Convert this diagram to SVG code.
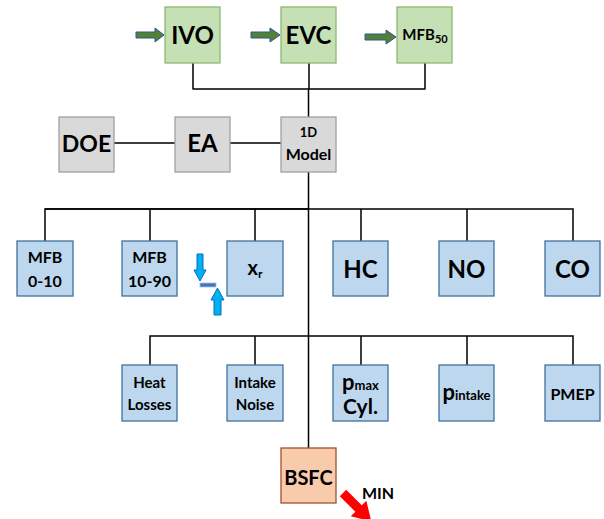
<svg xmlns="http://www.w3.org/2000/svg" width="604" height="519" viewBox="0 0 604 519">
<defs>
<style>
text{font-family:Lato,"Liberation Sans",sans-serif;font-weight:bold;fill:#000;text-anchor:middle}
.g{fill:#C5E0B4;stroke:#8CB870;stroke-width:1.3}
.gr{fill:#D9D9D9;stroke:#A0A0A0;stroke-width:1.3}
.b{fill:#BDD7EE;stroke:#41719C;stroke-width:1.3}
.o{fill:#F8CBAD;stroke:#A0522D;stroke-width:1.3}
.ln{fill:none;stroke:#000;stroke-width:1.5}
.ga{fill:#548235;stroke:#2F5597;stroke-width:1}
.ba{fill:#00B0F0;stroke:#0070C0;stroke-width:1}
</style>
</defs>
<rect width="604" height="519" fill="#fff"/>
<g id="connectors">
<path class="ln" d="M193,63V89M309,63V89M425,63V89M192.5,89H425.5M308.5,89V117"/>
<path class="ln" d="M114,143H175M230,143H281"/>
<path class="ln" d="M308.5,172V448"/>
<path class="ln" d="M45,241V209H573V241M150,209V241M255,209V241M361,209V241M467,209V241"/>
<path class="ln" d="M45,209H308" stroke-width="2"/>
<path class="ln" d="M150,365V336H573V365M255,336V365M361,336V365M467,336V365"/>
</g>
<g id="input-arrows">
<polygon class="ga" points="136,32 155,32 155,28 164,35 155,42 155,38 136,38"/>
<polygon class="ga" points="251,32 270,32 270,28 280,35 270,42 270,38 251,38"/>
<polygon class="ga" points="365,34 386,34 386,30 396,37 386,44 386,40 365,40"/>
</g>
<g id="IVO"><rect class="g" x="165" y="7" width="55" height="56"/><text x="192.5" y="43.5" font-size="24">IVO</text></g>
<g id="EVC"><rect class="g" x="281" y="7" width="55" height="56"/><text x="308.5" y="43.5" font-size="24">EVC</text></g>
<g id="MFB50"><rect class="g" x="397" y="7" width="55" height="56"/><text x="425" y="40" font-size="15">MFB<tspan font-size="11" dy="3">50</tspan></text></g>
<g id="DOE"><rect class="gr" x="59" y="117" width="55" height="55"/><text x="86.5" y="152" font-size="23">DOE</text></g>
<g id="EA"><rect class="gr" x="175" y="117" width="55" height="55"/><text x="202.5" y="152" font-size="24">EA</text></g>
<g id="Model1D"><rect class="gr" x="281" y="117" width="55" height="55"/><text x="308.5" y="137" font-size="13">1D</text><text x="308.5" y="160" font-size="16">Model</text></g>
<g id="MFB0-10"><rect class="b" x="17" y="241" width="56" height="55"/><text x="45" y="263" font-size="16">MFB</text><text x="45" y="287" font-size="16">0-10</text></g>
<g id="MFB10-90"><rect class="b" x="122" y="241" width="55" height="55"/><text x="149.5" y="263" font-size="16">MFB</text><text x="149.5" y="287" font-size="16">10-90</text></g>
<g id="tradeoff-arrows">
<polygon class="ba" points="197,254 203,254 203,270 206,270 200,281 194,270 197,270"/>
<rect x="200" y="283" width="16" height="4" fill="#4472C4" stroke="#9DC3E6" stroke-width="0.8"/>
<polygon class="ba" points="214,315 221,315 221,300 224,300 217.5,288 211,300 214,300"/>
</g>
<g id="xr"><rect class="b" x="227" y="241" width="56" height="55"/><text x="255" y="275" font-size="20">x<tspan font-size="12" dy="3">r</tspan></text></g>
<g id="HC"><rect class="b" x="333" y="241" width="55" height="55"/><text x="360.5" y="278" font-size="24">HC</text></g>
<g id="NO"><rect class="b" x="439" y="241" width="55" height="55"/><text x="466.5" y="278" font-size="24">NO</text></g>
<g id="CO"><rect class="b" x="545" y="241" width="55" height="55"/><text x="572.5" y="278" font-size="24">CO</text></g>
<g id="HeatLosses"><rect class="b" x="122" y="365" width="55" height="56"/><text x="149.5" y="388" font-size="15">Heat</text><text x="149.5" y="410" font-size="15">Losses</text></g>
<g id="IntakeNoise"><rect class="b" x="227" y="365" width="56" height="56"/><text x="255" y="388" font-size="15">Intake</text><text x="255" y="410" font-size="15">Noise</text></g>
<g id="pmaxCyl"><rect class="b" x="333" y="365" width="55" height="56"/><text x="360.5" y="390" font-size="22">p<tspan font-size="13">max</tspan></text><text x="360.5" y="414" font-size="21">Cyl.</text></g>
<g id="pintake"><rect class="b" x="439" y="365" width="55" height="56"/><text x="466.5" y="400" font-size="22">p<tspan font-size="13">intake</tspan></text></g>
<g id="PMEP"><rect class="b" x="545" y="365" width="55" height="56"/><text x="572.5" y="400" font-size="16">PMEP</text></g>
<g id="BSFC"><rect class="o" x="281" y="448" width="55" height="55"/><text x="308.5" y="485" font-size="20">BSFC</text></g>
<g id="min-arrow">
<polygon fill="#FF0000" points="0,-4.5 22,-4.5 22,-11 40,0 22,11 22,4.5 0,4.5" transform="translate(343,493) rotate(45)"/>
<text x="378" y="499" font-size="16">MIN</text>
</g>
</svg>
